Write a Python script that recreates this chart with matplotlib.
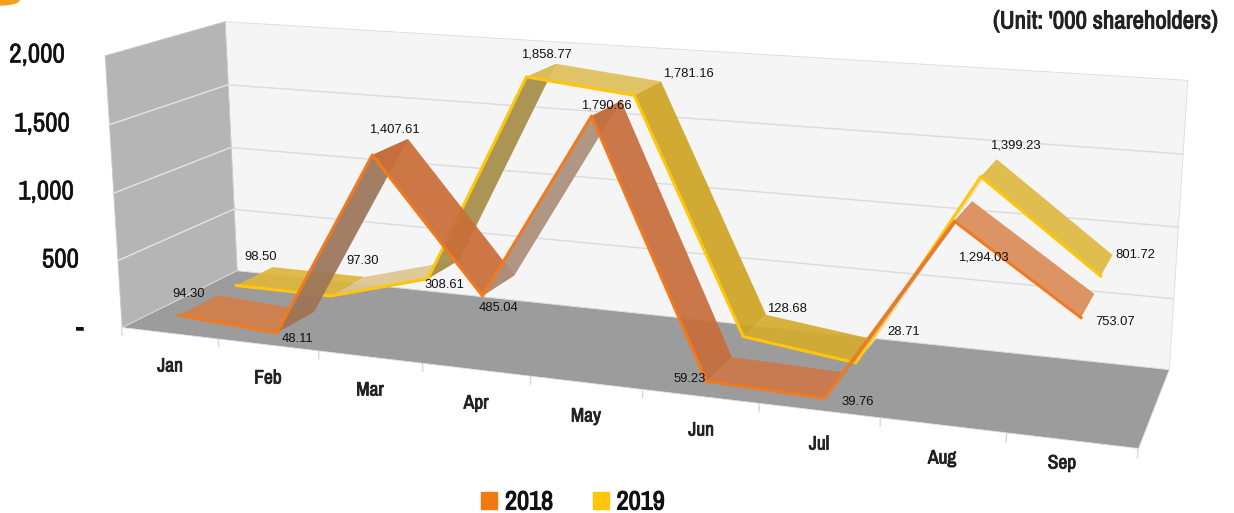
import numpy as np
import matplotlib
matplotlib.use('Agg')
import matplotlib.pyplot as plt
import matplotlib.patheffects as pe
from matplotlib.patches import Patch, Ellipse
from mpl_toolkits.mplot3d.art3d import Poly3DCollection

months = ['Jan', 'Feb', 'Mar', 'Apr', 'May', 'Jun', 'Jul', 'Aug', 'Sep']
values_2018 = [94.30, 48.11, 1407.61, 485.04, 1790.66, 59.23, 39.76, 1294.03, 753.07]
values_2019 = [98.50, 97.30, 308.61, 1858.77, 1781.16, 128.68, 28.71, 1399.23, 801.72]
z_ticks = [0, 500, 1000, 1500, 2000]
z_labels = ['-', '500', '1,000', '1,500', '2,000']

W, H = 1234, 513
fig = plt.figure(figsize=(W / 100, H / 100), dpi=100, facecolor='white')
ax = fig.add_axes([0.00323, 0.07789, 1, 1], projection='3d')
ax.set_xlim(0, 9, view_margin=0)
ax.set_ylim(0, 1, view_margin=0)
ax.set_zlim(0, 2000, view_margin=0)
ax.set_axis_off()
ax.computed_zorder = False
ax.patch.set_visible(False)
ax.set_proj_type('persp', focal_length=float(np.exp(-0.26806)))
ax.view_init(14.09540, -69.62000, 0.09309)
ax.set_box_aspect((3.62481, 0.81064, 1), zoom=2.10326)


def poly(verts, fc, ec='none', z=1.0, lw=0.6):
    pc = Poly3DCollection([verts], facecolors=fc, edgecolors=ec, linewidths=lw, zorder=z)
    ax.add_collection3d(pc)
    pc.set_clip_on(False)
    return pc


poly([(0, 1, 0), (9, 1, 0), (9, 1, 2000), (0, 1, 2000)], '#F5F5F5', '#DCDCDC', 1)
poly([(0, 0, 0), (0, 1, 0), (0, 1, 2000), (0, 0, 2000)], '#B5B5B5', '#C8C8C8', 1)
poly([(0, 0, 0), (9, 0, 0), (9, 1, 0), (0, 1, 0)], '#9C9C9C', '#E2E2E2', 2)
for zv in z_ticks[1:-1]:
    ax.plot([0, 9], [1, 1], [zv, zv], color='#DADADA', lw=1, zorder=1.5, clip_on=False)
    ax.plot([0, 0], [0, 1], [zv, zv], color='#E4E4E4', lw=1, zorder=1.5, clip_on=False)
for i in range(len(months) + 1):
    ax.plot([i, i], [0, 0], [0, -60], color='#D8D8D8', lw=1, zorder=1.5, clip_on=False)

shades_2018 = ['#D27F4B', '#9C7559', '#C96E38', '#AC8F7B', '#C76E3C', '#CC784A', '#B08A70', '#DC8D5A']
shades_2019 = ['#DEB53C', '#DDC690', '#A68E48', '#DFC05C', '#CFA525', '#D4AC30', '#E8E0C8', '#DEB942']


def ribbon(vals, y0, y1, shades, edge, z):
    xs = np.arange(len(vals)) + 0.5
    for i in range(len(vals) - 1):
        poly([(xs[i], y0, vals[i]), (xs[i + 1], y0, vals[i + 1]),
              (xs[i + 1], y1, vals[i + 1]), (xs[i], y1, vals[i])],
             matplotlib.colors.to_rgba(shades[i], 0.93), 'none', z)
    ax.plot(xs, [y0] * len(xs), vals, color=edge, lw=2.2, zorder=z + 0.1, clip_on=False)


ribbon(values_2019, 0.58, 0.92, shades_2019, '#FFC60B', 3)
ribbon(values_2018, 0.08, 0.42, shades_2018, '#F07A20', 4)

narrow = ['Archivo Narrow', 'Liberation Sans']


def embolden(width, color):
    return [pe.withStroke(linewidth=width, foreground=color)]


def T(x, y, s, **k):
    return fig.text(x / W, 1 - y / H, s, ha=k.pop('ha', 'center'), va='center', **k)


pos18 = [(189, 294), (298, 339), (394, 129), (499, 308), (606, 105), (690, 379), (858, 402), (983, 258), (1115, 322)]
pos19 = [(261, 257), (363, 261), (444, 285), (546, 55), (688, 74), (787, 309), (904, 332), (1015, 146), (1135, 255)]
for v, q in list(zip(values_2018, pos18)) + list(zip(values_2019, pos19)):
    T(q[0], q[1], f'{v:,.2f}', family='Liberation Sans', fontsize=9.4, color='#111111', zorder=20)
catpos = [(170, 366), (268, 378), (370, 390), (476, 403), (586, 416), (701, 430), (819, 444), (942, 458), (1062, 463)]
for m, q in zip(months, catpos):
    T(q[0], q[1], m, family=narrow, fontsize=14, color='#222222', path_effects=embolden(0.6, '#222222'))
for s, q in zip(z_labels, [(83, 328), (79, 260), (74, 192), (70, 124), (65, 55)]):
    T(q[0], q[1], s, ha='right', family=narrow, fontsize=19.5, color='#111111', path_effects=embolden(0.4, '#111111'))
T(1218, 21, "(Unit: '000 shareholders)", ha='right', family=narrow, fontsize=18, color='#222222',
  path_effects=embolden(0.7, '#222222'))
fig.add_artist(Ellipse((0.0, 1.0), 38 / W, 10 / H, transform=fig.transFigure, color='#F4A21E'))
leg = fig.legend(handles=[Patch(color='#F07A10', label='2018'), Patch(color='#FFC60B', label='2019')],
                 loc='center', bbox_to_anchor=(573 / W, 1 - 502 / H), ncol=2, frameon=False,
                 prop=dict(family=narrow, size=19),
                 handlelength=0.6, handleheight=0.6, handletextpad=0.3, columnspacing=1.5)
for t in leg.get_texts():
    t.set_color('#111111')
    t.set_path_effects(embolden(0.8, '#111111'))
fig.savefig('out.png', dpi=100)
